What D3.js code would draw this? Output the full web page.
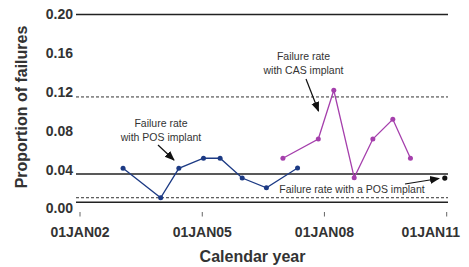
<!DOCTYPE html>
<meta charset="utf-8">
<style>
body { margin: 0; background: #fff; }
text { font-family: "Liberation Sans", Arial, sans-serif; fill: #333; }
.tick-label { font-size: 14px; font-weight: bold; }
.title { font-size: 16px; font-weight: bold; }
.note { font-size: 10.5px; }
</style>
<svg width="469" height="267"></svg>
<script src="https://cdn.jsdelivr.net/npm/d3@7"></script>
<script>

var svg = d3.select("svg");

// data
var posDates = ["2003-01-22", "2003-12-25", "2004-06-05", "2005-01-12", "2005-06-10", "2005-12-25", "2006-07-30", "2007-05-05"];
var posRates = [0.0414, 0.0111, 0.0414, 0.0518, 0.0518, 0.0314, 0.0214, 0.0418];
var casDates = ["2006-12-25", "2007-11-07", "2008-03-25", "2008-09-24", "2009-03-10", "2009-09-05", "2010-02-10"];
var casRates = [0.0518, 0.0716, 0.1219, 0.0318, 0.0716, 0.092, 0.0518];
var posTargetDate = "2010-12-15", posTargetRate = 0.0314;
var yTicks = [0, 0.04, 0.08, 0.12, 0.16, 0.20];
var xTicks = ["2002-01-01", "2005-01-01", "2008-01-01", "2011-01-01"];
var refSolid = [0.20, 0.0356, 0.0064];
var refDashed = [0.115, 0.0111];

var parse = d3.timeParse("%Y-%m-%d");

var x = d3.scaleTime()
    .domain([parse("2002-01-01"), parse("2011-01-01")])
    .range([80, 446.7]);

var y = d3.scaleLinear()
    .domain([0, 0.20])
    .range([208.5, 14.5]);

var x0 = 76, x1 = 448;

// reference lines
svg.selectAll(".ref-solid")
    .data(refSolid)
    .enter().append("line")
    .attr("x1", x0).attr("x2", x1)
    .attr("y1", d => y(d)).attr("y2", d => y(d))
    .attr("stroke", "#222")
    .attr("stroke-width", 1.4);

svg.selectAll(".ref-dash")
    .data(refDashed)
    .enter().append("line")
    .attr("x1", x0).attr("x2", x1)
    .attr("y1", d => y(d)).attr("y2", d => y(d))
    .attr("stroke", "#333")
    .attr("stroke-width", 1)
    .attr("stroke-dasharray", "3,2");

// y tick labels
svg.selectAll(".ylab")
    .data(yTicks)
    .enter().append("text")
    .attr("class", "tick-label")
    .attr("x", 73)
    .attr("y", d => y(d))
    .attr("dy", "0.35em")
    .attr("text-anchor", "end")
    .text(d3.format(".2f"));

// x ticks
var fmt = function(s) { return d3.timeFormat("%d%b%y")(parse(s)).toUpperCase(); };

svg.selectAll(".xtick")
    .data(xTicks)
    .enter().append("line")
    .attr("x1", d => x(parse(d))).attr("x2", d => x(parse(d)))
    .attr("y1", 212).attr("y2", 216.5)
    .attr("stroke", "#666")
    .attr("stroke-width", 1);

// labels are centred on their tick, but the last one is pulled in to fit
svg.selectAll(".xlab")
    .data(xTicks)
    .enter().append("text")
    .attr("class", "tick-label")
    .attr("x", (d, i) => i === xTicks.length - 1 ? 460 : x(parse(d)))
    .attr("y", 237)
    .attr("text-anchor", (d, i) => i === xTicks.length - 1 ? "end" : "middle")
    .text(fmt);

// axis titles
svg.append("text")
    .attr("class", "title")
    .attr("x", 252.5)
    .attr("y", 262)
    .attr("text-anchor", "middle")
    .text("Calendar year");

svg.append("text")
    .attr("class", "title")
    .attr("transform", "translate(27,107) rotate(-90)")
    .attr("text-anchor", "middle")
    .text("Proportion of failures");

// series
function series(dates, rates, color) {
    var pts = dates.map((d, i) => [parse(d), rates[i]]);
    svg.append("path")
        .datum(pts)
        .attr("fill", "none")
        .attr("stroke", color)
        .attr("stroke-width", 1.3)
        .attr("d", d3.line().x(d => x(d[0])).y(d => y(d[1])));
    svg.selectAll(null)
        .data(pts)
        .enter().append("circle")
        .attr("cx", d => x(d[0]))
        .attr("cy", d => y(d[1]))
        .attr("r", 2.5)
        .attr("fill", color);
}
series(posDates, posRates, "#1c3a84");
series(casDates, casRates, "#a53fac");

svg.append("circle")
    .attr("cx", x(parse(posTargetDate)))
    .attr("cy", y(posTargetRate))
    .attr("r", 2.6)
    .attr("fill", "#111");

// arrows + notes
svg.append("defs").append("marker")
    .attr("id", "arr")
    .attr("viewBox", "0 0 10 10")
    .attr("refX", 9).attr("refY", 5)
    .attr("markerWidth", 10).attr("markerHeight", 10)
    .attr("markerUnits", "userSpaceOnUse")
    .attr("orient", "auto")
    .append("path")
    .attr("d", "M0,1 L10,5 L0,9 Z")
    .attr("fill", "#111");

function arrow(ax, ay, bx, by) {
    svg.append("line")
        .attr("x1", ax).attr("y1", ay).attr("x2", bx).attr("y2", by)
        .attr("stroke", "#111")
        .attr("stroke-width", 1.2)
        .attr("marker-end", "url(#arr)");
}

function note(lines, cx, cy) {
    var t = svg.append("text").attr("class", "note").attr("text-anchor", "middle");
    lines.forEach(function(s, i) {
        t.append("tspan").attr("x", cx).attr("y", cy + i * 14).text(s);
    });
}

note(["Failure rate", "with POS implant"], 161, 127);
arrow(158, 145, 174, 160);

note(["Failure rate", "with CAS implant"], 303.5, 60);
arrow(306, 79, 318.5, 111);

note(["Failure rate with a POS implant"], 352, 193);
arrow(405, 184, 439, 178.5);

</script>
